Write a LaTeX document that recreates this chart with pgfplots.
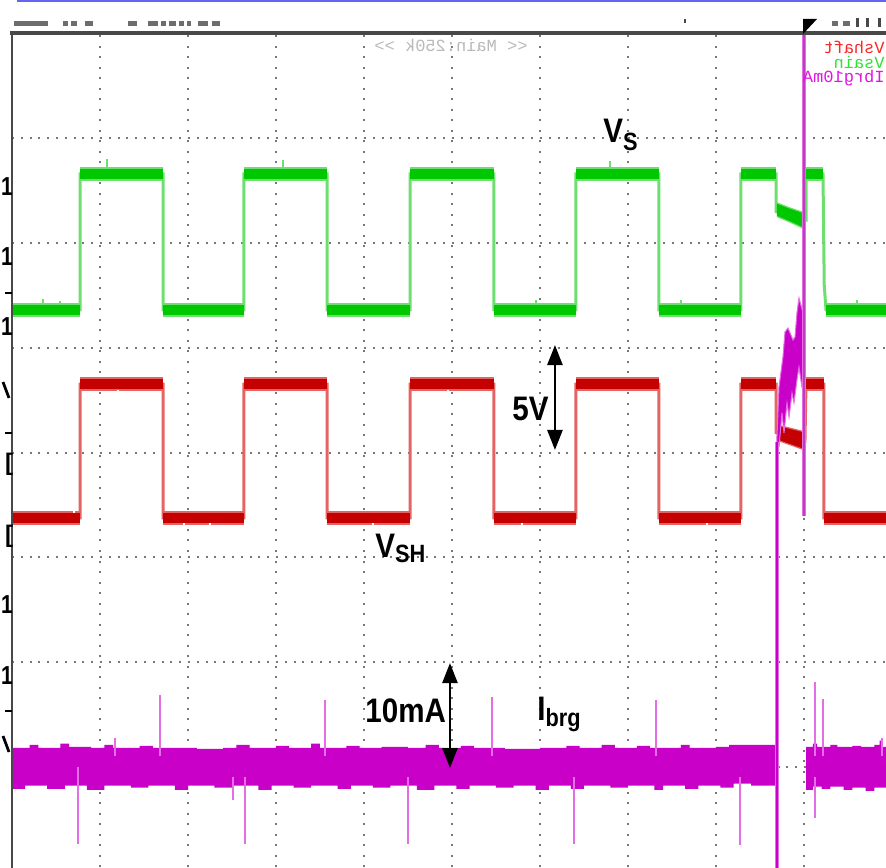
\documentclass[border=0pt]{standalone}
\usepackage{graphicx}
\usepackage{pgfplots}
\usepackage{pgfplotstable}
\pgfplotsset{compat=1.18}
\usepackage{fontspec}
\setmainfont{Liberation Sans}
\newfontfamily\scopemono{Liberation Mono}
\usetikzlibrary{arrows.meta}

\definecolor{gmain}{RGB}{0,200,0}
\definecolor{glight}{RGB}{110,222,110}
\definecolor{rmain}{RGB}{196,0,0}
\definecolor{rlight}{RGB}{228,100,100}
\definecolor{mmain}{RGB}{200,0,200}
\definecolor{mlight}{RGB}{228,110,228}
\definecolor{mcursor}{RGB}{190,60,190}
\definecolor{griddot}{RGB}{120,120,120}
\definecolor{framec}{RGB}{72,72,72}
\definecolor{topblue}{RGB}{100,100,240}
\definecolor{legred}{RGB}{250,40,40}
\definecolor{leggreen}{RGB}{50,225,50}
\definecolor{legmag}{RGB}{225,20,225}

% x in divisions (88 px), y in divisions (104.75 px)
\pgfplotstableread{
x y
0 5.361
0.773 5.361
0.773 6.659
1.716 6.659
1.716 5.361
2.636 5.361
2.636 6.659
3.580 6.659
3.580 5.361
4.523 5.361
4.523 6.659
5.477 6.659
5.477 5.361
6.409 5.361
6.409 6.659
7.352 6.659
7.352 5.361
8.284 5.361
8.284 6.659
8.682 6.659
8.682 6.30
9.023 6.22
9.023 6.659
9.216 6.659
9.230 5.60
9.250 5.361
9.932 5.361
}\greentrace

\pgfplotstableread{
x y
0 5.361
0.773 5.361
nan nan
0.773 6.659
1.716 6.659
nan nan
1.716 5.361
2.636 5.361
nan nan
2.636 6.659
3.580 6.659
nan nan
3.580 5.361
4.523 5.361
nan nan
4.523 6.659
5.477 6.659
nan nan
5.477 5.361
6.409 5.361
nan nan
6.409 6.659
7.352 6.659
nan nan
7.352 5.361
8.284 5.361
nan nan
8.284 6.659
8.682 6.659
nan nan
9.023 6.659
9.216 6.659
nan nan
9.250 5.361
9.932 5.361
}\greenband

% small noise spikes on the green trace
\pgfplotstableread{
x y
1.08 6.70
1.08 6.80
nan nan
0.35 5.40
0.35 5.47
nan nan
0.55 5.40
0.55 5.45
nan nan
3.08 6.70
3.08 6.79
nan nan
6.80 6.70
6.80 6.78
nan nan
5.95 5.40
5.95 5.46
nan nan
7.60 5.40
7.60 5.46
nan nan
9.60 5.40
9.60 5.46
}\greennoise

\pgfplotstableread{
x y
8.693 6.382
8.841 6.334
9.011 6.286
9.011 6.134
8.841 6.200
8.693 6.253
}\greendrop

\pgfplotstableread{
x y
0 3.375
0.773 3.375
0.773 4.654
1.716 4.654
1.716 3.375
2.636 3.375
2.636 4.654
3.580 4.654
3.580 3.375
4.523 3.375
4.523 4.654
5.477 4.654
5.477 3.375
6.409 3.375
6.409 4.654
7.352 4.654
7.352 3.375
8.284 3.375
8.284 4.654
8.682 4.654
8.682 4.19
9.011 4.11
9.023 4.654
9.227 4.654
9.227 3.375
9.932 3.375
}\redtrace

\pgfplotstableread{
x y
0 3.375
0.773 3.375
nan nan
0.773 4.654
1.716 4.654
nan nan
1.716 3.375
2.636 3.375
nan nan
2.636 4.654
3.580 4.654
nan nan
3.580 3.375
4.523 3.375
nan nan
4.523 4.654
5.477 4.654
nan nan
5.477 3.375
6.409 3.375
nan nan
6.409 4.654
7.352 4.654
nan nan
7.352 3.375
8.284 3.375
nan nan
8.284 4.654
8.682 4.654
nan nan
9.023 4.654
9.227 4.654
nan nan
9.227 3.375
9.932 3.375
}\redband

% small noise spikes on the red trace
\pgfplotstableread{
x y
0.70 3.42
0.70 3.50
nan nan
1.95 3.33
1.95 3.27
nan nan
2.25 3.33
2.25 3.28
nan nan
4.10 3.33
4.10 3.27
nan nan
5.80 3.33
5.80 3.28
nan nan
7.90 3.33
7.90 3.28
nan nan
1.20 4.60
1.20 4.55
nan nan
4.95 4.60
4.95 4.55
}\rednoise

\pgfplotstableread{
x y
8.693 4.263
9.011 4.196
9.011 4.024
8.693 4.119
}\reddrop

\pgfplotstableread{
x y
0.00 1.18
0.20 1.21
0.30 1.18
0.55 1.22
0.65 1.19
0.90 1.18
1.05 1.21
1.15 1.18
1.45 1.20
1.60 1.18
1.90 1.18
2.10 1.17
2.40 1.18
2.55 1.21
2.70 1.18
3.00 1.20
3.15 1.18
3.40 1.22
3.50 1.18
3.80 1.20
3.95 1.18
4.20 1.19
4.50 1.18
4.70 1.21
4.85 1.18
5.10 1.20
5.25 1.18
5.60 1.17
6.00 1.18
6.30 1.20
6.45 1.18
6.70 1.21
6.85 1.18
7.10 1.20
7.25 1.18
7.60 1.21
7.70 1.18
8.00 1.19
8.15 1.21
8.30 1.21
8.60 1.21
8.693 1.21
8.693 0.82
8.50 0.82
8.40 0.84
8.20 0.80
8.05 0.82
7.80 0.79
7.65 0.82
7.40 0.78
7.30 0.82
7.00 0.80
6.80 0.82
6.50 0.79
6.35 0.82
6.10 0.78
5.95 0.82
5.70 0.80
5.50 0.82
5.20 0.79
5.05 0.82
4.80 0.78
4.60 0.82
4.30 0.80
4.10 0.82
3.85 0.79
3.70 0.82
3.40 0.80
3.20 0.82
2.95 0.78
2.80 0.82
2.50 0.80
2.30 0.82
2.00 0.78
1.85 0.82
1.55 0.80
1.35 0.82
1.05 0.78
0.85 0.82
0.60 0.79
0.40 0.82
0.15 0.79
0.00 0.82
}\magbandL

\pgfplotstableread{
x y
9.023 1.19
9.10 1.22
9.15 1.19
9.30 1.21
9.38 1.19
9.55 1.20
9.65 1.19
9.80 1.21
9.86 1.25
9.88 1.19
9.932 1.19
9.932 0.80
9.80 0.77
9.70 0.80
9.55 0.78
9.45 0.81
9.30 0.79
9.20 0.81
9.10 0.78
9.023 0.81
}\magbandR

\pgfplotstableread{
x y
0.750 1.0
0.750 0.263
nan nan
1.170 1.1
1.170 1.274
nan nan
1.682 1.1
1.682 1.685
nan nan
2.511 0.9
2.511 0.683
nan nan
2.648 0.9
2.648 0.263
nan nan
3.557 1.1
3.557 1.637
nan nan
4.500 0.9
4.500 0.263
nan nan
5.455 1.1
5.455 1.666
nan nan
6.386 0.9
6.386 0.263
nan nan
7.318 1.1
7.318 1.637
nan nan
8.273 0.9
8.273 0.253
nan nan
9.125 1.1
9.125 1.809
nan nan
9.125 0.9
9.125 0.511
nan nan
9.216 1.1
9.216 1.647
nan nan
9.886 1.1
9.886 1.274
}\magspikes

\pgfplotstableread{
x y
8.682 3.928
8.716 4.625
8.761 4.912
8.784 5.150
8.818 5.189
8.875 5.074
8.898 5.103
8.920 5.332
8.943 5.475
8.989 5.332
8.989 4.597
8.977 4.625
8.943 4.816
8.920 4.692
8.886 4.473
8.864 4.568
8.830 4.339
8.807 4.473
8.773 4.186
8.750 4.377
8.716 4.052
}\magblob

\newcommand\lab{\bfseries\fontsize{17}{17}\selectfont}
\newcommand\sublab{\bfseries\fontsize{12.5}{12.5}\selectfont}
\newcommand\cond[1]{\scalebox{0.87}[1]{#1}}
\newcommand\monofont{\scopemono\fontsize{8.5}{8.5}\selectfont}

\begin{document}
\begin{tikzpicture}
\begin{axis}[
  at={(0,0)}, anchor=south west,
  scale only axis, width=437pt, height=417pt,
  xmin=0, xmax=9.932, ymin=0.043, ymax=8.005,
  xtick={1,...,9}, ytick={1,...,7},
  xticklabels={}, yticklabels={},
  major tick length=0pt, tick style={draw=none},
  grid=major,
  x grid style={griddot, line width=1pt, dash pattern=on 1pt off 4.25pt},
  y grid style={griddot, line width=1pt, dash pattern=on 1pt off 3.4pt},
  axis line style={draw=none},
  unbounded coords=jump,
]
% V_S (green)
\addplot[glight, line width=1.5pt] table {\greentrace};
\addplot[glight, line width=1pt] table {\greennoise};
\addplot[glight, line width=6.6pt] table {\greenband};
\addplot[gmain, line width=5.2pt] table {\greenband};
\addplot[fill=gmain, draw=glight, line width=0.6pt] table {\greendrop};
% V_SH (red)
\addplot[rlight, line width=1.5pt] table {\redtrace};
\addplot[rlight, line width=6.8pt] table {\redband};
\addplot[rmain, line width=5.4pt] table {\redband};
\addplot[white, line width=1pt] table {\rednoise};
\addplot[fill=rmain, draw=rlight, line width=0.6pt] table {\reddrop};
% I_brg (magenta)
\addplot[const plot, fill=mmain, draw=none] table {\magbandL};
\addplot[const plot, fill=mmain, draw=none] table {\magbandR};
\addplot[mlight, line width=1pt] table {\magspikes};
\addplot[fill=mmain, draw=mlight, line width=0.5pt] table {\magblob};
\addplot[mlight, line width=1.8pt] coordinates {(8.693,4.10) (8.693,-0.5)};
\addplot[mmain, line width=0.6pt] coordinates {(8.693,4.10) (8.693,-0.5)};
% cursor
\addplot[mlight, line width=2.2pt] coordinates {(9.0,3.394) (9.0,8.3)};
\addplot[mcursor, line width=1pt] coordinates {(9.0,3.394) (9.0,8.3)};

% labels
\node[anchor=base west, inner sep=0] at (axis cs:6.716,6.964) {\cond{\lab V\raisebox{-4pt}{\sublab S}}};
\node[anchor=base west, inner sep=0] at (axis cs:4.125,2.993) {\cond{\lab V\raisebox{-2.5pt}{\sublab SH}}};
\node[anchor=base west, inner sep=0] at (axis cs:5.682,4.310) {\cond{\lab 5V}};
\node[anchor=base west, inner sep=0] at (axis cs:4.011,1.418) {\cond{\lab 10mA}};
\node[anchor=base west, inner sep=0] at (axis cs:5.966,1.446) {\cond{\lab I\raisebox{-3pt}{\sublab brg}}};
\draw[line width=1.3pt, {Triangle[width=7.5pt,length=10pt]}-{Triangle[width=7.5pt,length=10pt]}]
  (axis cs:6.170,5.026) -- (axis cs:6.170,4.024);
\draw[line width=1.3pt, {Triangle[width=7.5pt,length=10pt]}-{Triangle[width=7.5pt,length=10pt]}]
  (axis cs:4.977,1.990) -- (axis cs:4.977,0.988);
\end{axis}

% decorations in pixel units (origin top-left of picture)
\begin{scope}[x=0.5pt, y=-0.5pt, shift={(-6pt,433.5pt)}]
  \draw[topblue, line width=1.2pt] (17,1) -- (890,1);
  \draw[framec, line width=1.6pt] (10,33) -- (890,33);
  \draw[framec, line width=1.1pt] (12,32) -- (12,870);
  % header pseudo text
  \foreach \a/\b in {14/48,63/68,71/77,85/93,128/137,148/158,161/166,169/176,179/184,187/191,198/208,212/220,832/838,843/850}
    \fill[framec!80] (\a,21) rectangle (\b,26);
  \fill[framec] (684,19) rectangle (686,23);
  \fill[framec] (856,18) rectangle (859,27);
  \fill[framec] (866,18) rectangle (869,27);
  \fill[framec] (878,18) rectangle (881,27);
  \fill[black] (803,34) -- (803,19) -- (817,19) -- cycle;
  % mirrored scope texts (the screenshot is horizontally flipped)
  \node[transform shape, rotate=180, yscale=-1, text=gray!55, font=\monofont, inner sep=0] at (451,45) {<< Main:250k >>};
  \node[transform shape, rotate=180, yscale=-1, anchor=west, text=legred, font=\monofont, inner sep=0] at (885,47) {Vshaft};
  \node[transform shape, rotate=180, yscale=-1, anchor=west, text=leggreen, font=\monofont, inner sep=0] at (885,62) {Vsain};
  \node[transform shape, rotate=180, yscale=-1, anchor=west, text=legmag, font=\monofont, inner sep=0] at (885,78) {Ibrg10mA};
  % channel markers at the left edge
  \foreach \yy in {187,257,327,605,676}
    \node[font=\bfseries\fontsize{13}{13}\selectfont, inner sep=0] at (7,\yy) {\scalebox{0.8}[1]{1}};
  \foreach \yy in {464,536}
    \node[font=\bfseries\fontsize{12}{12}\selectfont, inner sep=0] at (9,\yy) {[};
  \foreach \yy in {390,744}
    \draw[line width=1.4pt] (3,382) ++(0,\yy-390) -- ++(6,16);
  \foreach \yy in {293,433,711}
    \draw[line width=0.8pt] (5,\yy) -- (12,\yy);
\end{scope}
\pgfresetboundingbox
\useasboundingbox (-6pt,0) rectangle (437pt,433.5pt);
\end{tikzpicture}
\end{document}
